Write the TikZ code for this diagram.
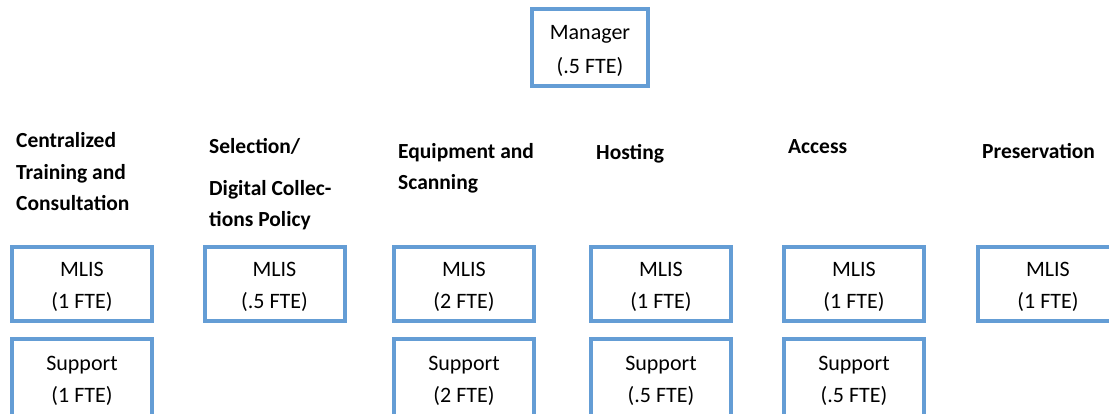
\documentclass[tikz,border=0pt]{standalone}
\usepackage{fontspec}
\setmainfont{Carlito}
\definecolor{boxblue}{RGB}{100,157,213}
\newcommand\boxstrut{\rule{0pt}{21pt}}
\begin{document}
\begin{tikzpicture}[x=1pt,y=-1pt,
  box/.style={draw=boxblue,line width=4pt,minimum width=140pt,minimum height=74pt,
    inner sep=0pt,align=center,font=\fontsize{22}{32}\selectfont},
  head/.style={anchor=base west,inner sep=0pt,align=left,
    font=\fontsize{21.5}{31.5}\selectfont\bfseries}]
\clip (0,0) rectangle (1109,414);
\fill[white] (0,0) rectangle (1109,414);
% manager
\node[box,minimum width=116pt,minimum height=77pt,font=\fontsize{22}{34}\selectfont] (mgr) at (590,47.5) {\boxstrut Manager\\(.5 FTE)};
% headings (anchored at the baseline of the last line)
\node[head] (h1) at (16,211) {Centralized\\Training and\\Consultation};
\node[head] (h2) at (209,227) {Selection/\\[10pt]Digital Collec-\\tions Policy};
\node[head] (h3) at (398,190) {Equipment and\\Scanning};
\node[head] (h4) at (596,160) {Hosting};
\node[head] (h5) at (788,154) {Access};
\node[head] (h6) at (982,159) {Preservation};
% MLIS boxes
\node[box] (m1) at (82,284) {\boxstrut MLIS\\(1 FTE)};
\node[box] (m2) at (274.5,284) {\boxstrut MLIS\\(.5 FTE)};
\node[box] (m3) at (464,284) {\boxstrut MLIS\\(2 FTE)};
\node[box] (m4) at (661,284) {\boxstrut MLIS\\(1 FTE)};
\node[box] (m5) at (854,284) {\boxstrut MLIS\\(1 FTE)};
\node[box] (m6) at (1048,284) {\boxstrut MLIS\\(1 FTE)};
% Support boxes
\node[box,minimum height=78pt] (s1) at (82,378) {\boxstrut Support\\(1 FTE)};
\node[box,minimum height=78pt] (s3) at (464,378) {\boxstrut Support\\(2 FTE)};
\node[box,minimum height=78pt] (s4) at (661,378) {\boxstrut Support\\(.5 FTE)};
\node[box,minimum height=78pt] (s5) at (854,378) {\boxstrut Support\\(.5 FTE)};
\end{tikzpicture}
\end{document}
